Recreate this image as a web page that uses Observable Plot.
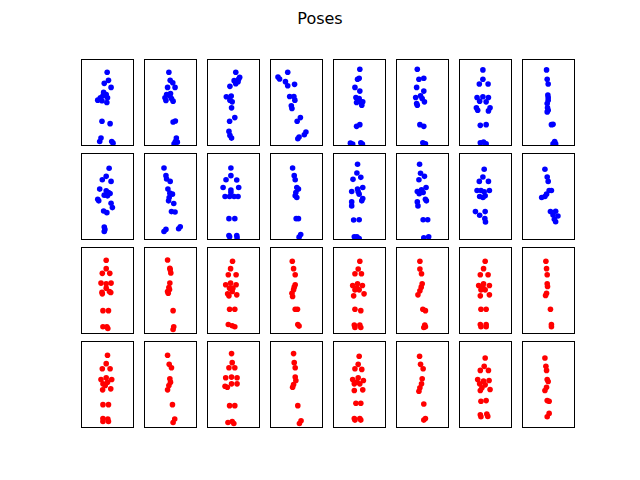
<!DOCTYPE html>
<html>
<head>
<meta charset="utf-8">
<script src="https://cdn.jsdelivr.net/npm/d3@7"></script>
<script src="https://cdn.jsdelivr.net/npm/@observablehq/plot@0.6"></script>
<style>
  html, body { margin: 0; padding: 0; background: #fff; }
  #wrap { position: relative; width: 640px; height: 480px; }
  #title { position: absolute; left: 0; top: 10px; width: 640px; text-align: center;
           font-family: "DejaVu Sans", sans-serif; font-size: 16px; line-height: 18px; color: #000; }
</style>
</head>
<body>
<div id="wrap"><div id="title">Poses</div></div>
<script>
// Keypoint coordinates per pose (image units: x to the right, y downward)
const row1 = [
  [[79,38],[83,62],[70,71],[91,83],[68,98],[66,108],[58,114],[50,121],[76,104],[80,114],[78,128],[63,123],[63,184],[88,191],[60,234],[56,244],[93,244],[97,249]],
  [[75,38],[79,62],[87,69],[71,83],[94,83],[68,104],[80,101],[63,114],[66,122],[83,116],[88,124],[78,108],[88,186],[95,183],[98,234],[95,244],[91,251],[101,246]],
  [[87,38],[99,53],[82,63],[94,66],[87,72],[69,80],[58,111],[73,109],[69,121],[76,126],[74,144],[84,173],[68,184],[66,214],[69,226],[74,234],[96,58]],
  [[53,38],[23,52],[28,58],[46,66],[53,78],[74,74],[59,110],[72,110],[75,121],[64,138],[66,146],[92,173],[82,184],[109,216],[104,224],[88,231],[84,236]],
  [[81,29],[79,56],[74,59],[66,83],[81,94],[69,113],[74,119],[71,128],[84,126],[90,126],[87,136],[79,116],[81,194],[71,199],[52,249],[59,252],[84,248],[89,252]],
  [[64,29],[69,59],[84,56],[62,83],[84,94],[59,113],[74,108],[79,116],[86,126],[62,131],[64,136],[72,194],[84,199],[81,248],[89,251]],
  [[72,31],[72,59],[61,73],[88,73],[54,113],[72,111],[89,113],[62,124],[82,126],[52,144],[56,151],[94,144],[89,153],[64,196],[82,194],[64,248],[74,246],[82,251]],
  [[74,31],[76,59],[79,73],[78,106],[79,113],[79,121],[76,131],[77,144],[79,151],[76,156],[89,194],[94,193],[99,244],[94,251],[102,251]]
];
const row2 = [
  [[85,44],[76,68],[64,78],[91,83],[56,106],[76,111],[83,116],[88,119],[70,124],[80,126],[50,136],[53,141],[91,148],[95,161],[68,171],[78,176],[70,219],[72,226],[70,232]],
  [[60,43],[66,66],[68,76],[79,83],[72,106],[78,118],[86,121],[76,131],[74,141],[90,149],[83,173],[94,174],[66,226],[60,232],[110,218],[105,224]],
  [[72,43],[72,66],[57,78],[90,79],[48,101],[72,109],[96,101],[54,128],[68,128],[82,128],[94,128],[72,116],[66,194],[84,194],[66,244],[68,248],[90,244],[91,251]],
  [[68,43],[73,66],[76,78],[81,101],[86,106],[78,116],[76,126],[81,131],[79,194],[86,194],[93,241],[88,249]],
  [[74,32],[72,58],[84,71],[60,77],[90,101],[56,113],[74,106],[79,121],[76,114],[90,134],[87,141],[56,144],[56,156],[62,198],[79,197],[64,248],[72,248],[79,253]],
  [[71,32],[74,59],[86,68],[69,78],[91,101],[64,113],[77,108],[82,116],[70,120],[89,136],[92,141],[64,144],[66,156],[82,197],[96,197],[84,251],[99,248]],
  [[76,47],[72,70],[61,83],[89,83],[54,110],[92,110],[66,110],[76,114],[62,128],[72,131],[79,126],[49,173],[62,184],[79,173],[78,194],[80,204]],
  [[69,47],[76,70],[79,83],[82,110],[89,110],[74,121],[69,128],[59,131],[86,173],[102,172],[94,183],[109,186],[98,196],[102,203]]
];
const row3 = [
  [[76,38],[76,63],[64,77],[87,77],[60,106],[76,108],[91,106],[63,133],[86,131],[64,138],[90,134],[76,121],[66,188],[83,188],[66,236],[78,236],[81,241]],
  [[71,37],[78,62],[79,66],[81,76],[78,106],[75,119],[71,131],[73,136],[77,125],[88,188],[90,236],[88,244]],
  [[77,41],[71,63],[64,81],[88,81],[56,111],[71,106],[88,111],[68,121],[78,121],[62,138],[66,144],[90,141],[76,131],[68,184],[84,184],[64,229],[76,233],[84,236]],
  [[67,41],[71,63],[76,81],[76,111],[73,118],[71,126],[66,136],[68,146],[76,184],[83,184],[84,229],[88,234]],
  [[81,41],[76,64],[66,78],[86,78],[59,113],[74,108],[89,113],[66,126],[79,126],[62,144],[94,138],[72,121],[66,184],[84,188],[64,231],[66,238],[81,231],[84,238]],
  [[72,41],[72,64],[77,78],[79,108],[76,118],[72,129],[66,141],[81,184],[89,188],[87,231],[84,238],[89,236]],
  [[79,41],[74,63],[64,81],[88,81],[59,113],[74,108],[92,113],[66,126],[79,126],[64,144],[92,141],[72,118],[66,184],[82,184],[64,229],[66,236],[82,229],[82,236]],
  [[72,41],[74,63],[76,81],[76,108],[77,116],[74,136],[71,143],[86,184],[89,229],[89,236]]
];
const row4 = [
  [[80,41],[76,66],[64,81],[88,81],[60,113],[76,108],[93,113],[66,126],[80,121],[65,144],[90,141],[73,131],[66,188],[83,188],[66,229],[66,238],[81,231],[83,238]],
  [[71,41],[76,68],[83,78],[78,111],[80,121],[75,131],[71,144],[86,188],[93,231],[88,241]],
  [[74,36],[76,63],[66,78],[84,78],[56,108],[74,106],[91,108],[54,133],[61,136],[74,126],[91,126],[68,191],[84,191],[63,241],[76,238],[81,244]],
  [[71,36],[73,63],[76,78],[76,106],[78,116],[71,128],[68,136],[84,191],[94,236],[89,244]],
  [[79,44],[76,68],[66,81],[87,83],[59,113],[76,108],[92,116],[64,126],[81,126],[64,146],[90,144],[72,121],[69,184],[84,184],[64,229],[66,234],[81,229],[84,234]],
  [[71,44],[74,68],[82,81],[79,111],[77,126],[72,138],[69,148],[84,186],[89,229],[84,234]],
  [[79,49],[76,74],[64,86],[89,86],[56,113],[74,118],[91,116],[62,126],[79,129],[64,146],[94,143],[69,138],[66,178],[82,176],[64,218],[66,224],[84,216],[87,223]],
  [[69,49],[72,74],[74,86],[76,113],[79,119],[74,136],[69,146],[76,176],[82,178],[82,214],[76,224]]
];
const rows = [row1, row2, row3, row4];
const rowColors = ["#0000ff", "#0000ff", "#ff0000", "#ff0000"];
const columns = [0, 1, 2, 3, 4, 5, 6, 7];
const rowIds = [0, 1, 2, 3];

const points = [];
rows.forEach((row, r) => row.forEach((pose, c) => pose.forEach(([x, y]) =>
  points.push({x, y, col: c, row: r, color: rowColors[r]}))));

const chart = Plot.plot({
  width: 640,
  height: 480,
  marginLeft: 80,
  marginRight: 64,
  marginTop: 57.6,
  marginBottom: 52.8,
  fx: {domain: columns, paddingInner: 0.1667, paddingOuter: 0, axis: null},
  fy: {domain: rowIds, paddingInner: 0.0903, paddingOuter: 0, axis: null},
  x: {domain: [0, 160], axis: null},
  y: {domain: [0, 256], reverse: true, axis: null},
  marks: [
    Plot.dot(points, {x: "x", y: "y", fx: "col", fy: "row", r: 2.8, fill: d => d.color, stroke: null, clip: true}),
    Plot.frame({stroke: "#000", strokeWidth: 1})
  ]
});
chart.style.position = "absolute";
chart.style.left = "0";
chart.style.top = "0";
document.getElementById("wrap").appendChild(chart);
</script>
</body>
</html>
